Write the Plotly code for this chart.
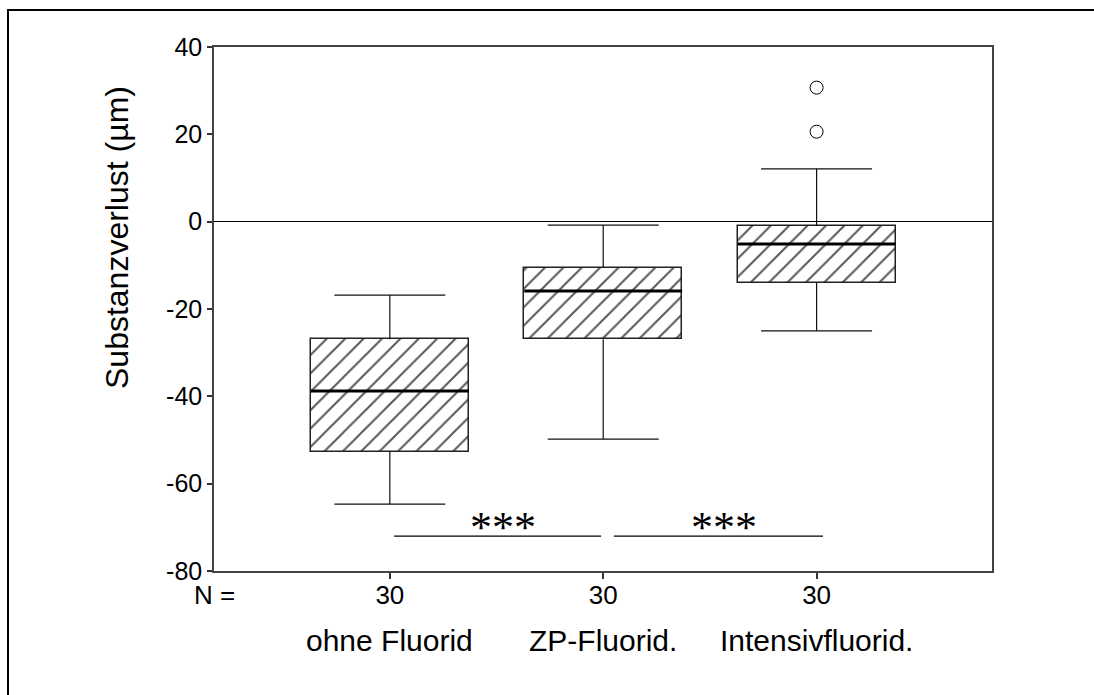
import plotly.graph_objects as go

# ---- data ----
categories = ["ohne Fluorid", "ZP-Fluorid.", "Intensivfluorid."]
n_counts = [30, 30, 30]
q1 = [-52.7, -26.9, -14.0]
median = [-38.8, -15.9, -5.1]
q3 = [-26.9, -10.5, -1.0]
whisker_low = [-64.7, -49.8, -25.0]
whisker_high = [-16.8, -0.8, 12.1]
outlier_group = [3, 3]
outlier_values = [30.7, 20.6]
sig_x_start = [1.02, 2.05]
sig_x_end = [1.99, 3.03]
sig_level = -72.0
sig_labels = ["***", "***"]
y_ticks = [40, 20, 0, -20, -40, -60, -80]
y_ticktext = ["40", "20", "0", "-20", "-40", "-60", "-80"]

# ---- layout geometry ----
W, H = 1094, 695
ML, MR, MT, MB = 214, 102, 47, 124
PW, PH = W - ML - MR, H - MT - MB

def px_x(px):
    return (px - ML) / PW

def px_y(py):
    return (H - MB - py) / PH

FONT = "Arial, Liberation Sans, sans-serif"
pos = [1, 2, 3]
box_w = 0.74
cap_half = 0.26

fig = go.Figure()

# boxes (hatched)
fig.add_trace(go.Bar(
    x=pos, base=q1, y=[b - a for a, b in zip(q1, q3)], width=box_w,
    marker=dict(color="white",
                line=dict(color="#222", width=1.5),
                pattern=dict(shape="/", fgcolor="#555555", bgcolor="white",
                             size=13, solidity=0.15, fillmode="replace")),
    hoverinfo="skip", showlegend=False))

# whiskers
wx, wy = [], []
for p, lo, hi, a, b in zip(pos, whisker_low, whisker_high, q1, q3):
    wx += [p, p, None, p, p, None, p - cap_half, p + cap_half, None, p - cap_half, p + cap_half, None]
    wy += [b, hi, None, a, lo, None, hi, hi, None, lo, lo, None]
fig.add_trace(go.Scatter(x=wx, y=wy, mode="lines", line=dict(color="#111", width=1.2),
                         hoverinfo="skip", showlegend=False))

# medians
mx, my = [], []
for p, m in zip(pos, median):
    mx += [p - box_w / 2, p + box_w / 2, None]
    my += [m, m, None]
fig.add_trace(go.Scatter(x=mx, y=my, mode="lines", line=dict(color="black", width=3),
                         hoverinfo="skip", showlegend=False))

# outliers
fig.add_trace(go.Scatter(x=outlier_group, y=outlier_values, mode="markers",
                         marker=dict(symbol="circle-open", size=13, color="black",
                                     line=dict(width=1)),
                         hoverinfo="skip", showlegend=False))

# significance lines
sx, sy = [], []
for a, b in zip(sig_x_start, sig_x_end):
    sx += [a, b, None]
    sy += [sig_level, sig_level, None]
fig.add_trace(go.Scatter(x=sx, y=sy, mode="lines", line=dict(color="black", width=1.3),
                         hoverinfo="skip", showlegend=False))

annotations = []
for a, b, lab in zip(sig_x_start, sig_x_end, sig_labels):
    annotations.append(dict(x=(a + b) / 2 + 0.024, y=sig_level, xref="x", yref="y",
                            text=lab, showarrow=False, yanchor="bottom", yshift=-18,
                            font=dict(family="Liberation Serif, Times New Roman, serif",
                                      size=44, color="black")))

# category labels
for p, c in zip(pos, categories):
    annotations.append(dict(x=p, y=px_y(640), xref="x", yref="paper", text=c,
                            showarrow=False, xanchor="center", yanchor="middle",
                            font=dict(family=FONT, size=30, color="black")))
# N =
annotations.append(dict(x=0, y=px_y(595), xref="paper", yref="paper", text="N =",
                        showarrow=False, xanchor="center", yanchor="middle",
                        font=dict(family=FONT, size=26, color="black")))
# y title
annotations.append(dict(x=px_x(117), y=px_y(238), xref="paper", yref="paper",
                        text="Substanzverlust (µm)", textangle=-90, showarrow=False,
                        xanchor="center", yanchor="middle",
                        font=dict(family=FONT, size=32, color="black")))

shapes = [dict(type="rect", xref="paper", yref="paper",
               x0=px_x(8), x1=px_x(1110), y0=px_y(10), y1=px_y(710),
               line=dict(color="black", width=2), fillcolor="rgba(0,0,0,0)", layer="above")]

fig.update_layout(
    width=W, height=H,
    margin=dict(l=ML, r=MR, t=MT, b=MB, pad=0),
    paper_bgcolor="white", plot_bgcolor="white",
    showlegend=False, bargap=0,
    annotations=annotations, shapes=shapes,
    xaxis=dict(range=[0.176, 3.822], tickvals=pos, ticktext=[str(n) for n in n_counts],
               ticks="outside", ticklen=6, tickwidth=2, tickcolor="#333",
               ticklabelstandoff=-6,
               showgrid=False, zeroline=False, showline=True, linecolor="#444",
               linewidth=1.5, mirror=True,
               tickfont=dict(family=FONT, size=26, color="black")),
    yaxis=dict(range=[-80, 40], tickvals=y_ticks, ticktext=y_ticktext,
               ticks="outside", ticklen=5,
               tickwidth=2, tickcolor="#333", showgrid=False,
               zeroline=True, zerolinecolor="black", zerolinewidth=1,
               showline=True, linecolor="#444", linewidth=1.5, mirror=True,
               tickfont=dict(family=FONT, size=25, color="black")),
)

fig.write_html("out.html")
